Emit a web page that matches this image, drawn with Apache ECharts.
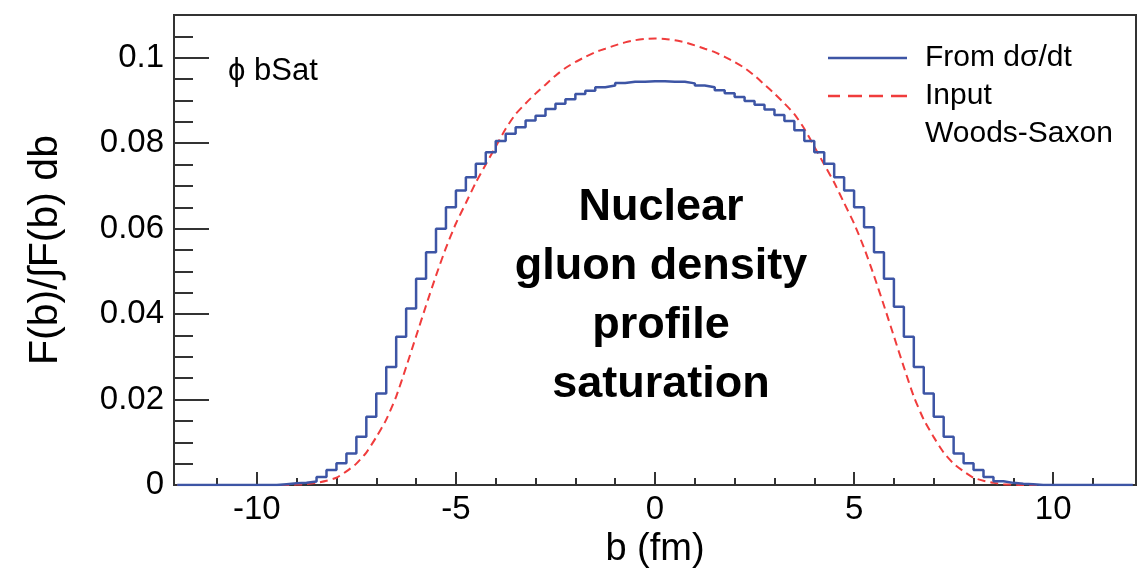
<!DOCTYPE html>
<html><head><meta charset="utf-8">
<script src="https://cdn.jsdelivr.net/npm/echarts@6/dist/echarts.min.js"></script>
<style>html,body{margin:0;padding:0;background:#fff}#c{width:1143px;height:571px}</style>
</head><body><div id="c"></div>
<script>
// ---- data ----
const histStart = -12;
const histBinWidth = 0.25;
const fromDsdt = [
  0,0,0,0,0,0,0,0,0,0,
  0.0002,0.0004,0.0005,0.0008,0.0019,0.0035,0.0051,0.0074,0.0113,0.0160,
  0.0214,0.0276,0.0347,0.0413,0.0483,0.0545,0.0600,0.0650,0.0689,0.0720,
  0.0752,0.0779,0.0805,0.0822,0.0837,0.0853,0.0864,0.0880,0.0892,0.0903,
  0.0915,0.0923,0.0931,0.0935,0.0941,0.0944,0.0944,0.0945,0.0945,0.0944,
  0.0944,0.0940,0.0935,0.0931,0.0924,0.0917,0.0908,0.0899,0.0890,0.0879,
  0.0866,0.0852,0.0830,0.0805,0.0779,0.0752,0.0720,0.0689,0.0650,0.0603,
  0.0545,0.0483,0.0417,0.0347,0.0276,0.0214,0.0160,0.0113,0.0074,0.0051,
  0.0035,0.0019,0.0009,0.0005,0.0003,0.0002,
  0,0,0,0,0,0,0,0,0,0
];
const wsStart = -12;
const wsStep = 0.25;
const inputWoodsSaxon = [
  0,0,0,0,0,0,0,0,0,0,0,0,
  0.0001,0.0002,0.0005,0.0010,0.0017,0.0032,0.0050,0.0076,0.0112,0.0153,
  0.0207,0.0276,0.0348,0.0420,0.0490,0.0555,0.0612,0.0660,0.0708,0.0750,
  0.0792,0.0834,0.0868,0.0893,0.0916,0.0937,0.0958,0.0976,0.0990,0.1002,
  0.1013,0.1021,0.1029,0.1036,0.1041,0.1044,
  0.1045,
  0.1044,0.1041,0.1036,0.1029,0.1021,0.1013,
  0.1002,0.0990,0.0976,0.0958,0.0937,0.0916,0.0893,0.0868,0.0834,0.0792,
  0.0750,0.0708,0.0660,0.0612,0.0555,0.0490,0.0420,0.0348,0.0276,0.0207,
  0.0153,0.0112,0.0076,0.0050,0.0032,0.0017,0.0010,0.0005,0.0002,0.0001,
  0,0,0,0,0,0,0,0,0,0,0,0
];
const xRange = [-12.08, 12.08];
const yRange = [0, 0.11];
const xTickLabels = [-10, -5, 0, 5, 10];
const xMinorTicks = [-11,-9,-8,-7,-6,-4,-3,-2,-1,1,2,3,4,6,7,8,9,11];
const yTickLabels = [0, 0.02, 0.04, 0.06, 0.08, 0.1];
const yMinorTicks = [0.005,0.01,0.015,0.025,0.03,0.035,0.045,0.05,0.055,0.065,0.07,0.075,0.085,0.09,0.095,0.105];
const seriesNames = ['From dσ/dt', 'Input', 'Woods-Saxon'];
const xTitle = 'b (fm)';
const yTitle = 'F(b)/∫F(b) db';
const modelLabel = 'ϕ bSat';
const annotationLines = ['Nuclear', 'gluon density', 'profile', 'saturation'];

// ---- build ----
const FONT = "'Liberation Sans', Arial, Helvetica, sans-serif";
const AX = '#333';
const BLUE = '#3d55a5';
const RED = '#f03c3c';

const histData = fromDsdt.map((v, i) => [histStart + i * histBinWidth, v]);
histData.push([histStart + fromDsdt.length * histBinWidth, fromDsdt[fromDsdt.length - 1]]);
const wsData = inputWoodsSaxon.map((v, i) => [wsStart + i * wsStep, v]);

const chart = echarts.init(document.getElementById('c'), null, {renderer: 'canvas'});
chart.setOption({
  animation: false,
  backgroundColor: '#fff',
  textStyle: {fontFamily: FONT},
  grid: {left: 174, right: 7, top: 15, bottom: 86, show: true, borderColor: AX, borderWidth: 2,
         backgroundColor: 'transparent', containLabel: false, outerBoundsMode: 'none'},
  xAxis: [
    {type: 'value', min: xRange[0], max: xRange[1], position: 'bottom',
     axisLine: {show: true, onZero: false, lineStyle: {color: AX, width: 2}},
     axisTick: {show: true, inside: true, length: 13, customValues: xTickLabels, lineStyle: {color: AX, width: 2}},
     axisLabel: {show: true, customValues: xTickLabels, margin: 8, color: '#000', fontSize: 33, fontFamily: FONT},
     splitLine: {show: false}, minorTick: {show: false},
     name: xTitle, nameLocation: 'middle', nameGap: 43,
     nameTextStyle: {fontSize: 38, color: '#000', fontFamily: FONT}},
    {type: 'value', min: xRange[0], max: xRange[1], position: 'bottom', gridIndex: 0,
     axisLine: {show: false, onZero: false},
     axisTick: {show: true, inside: true, length: 7, customValues: xMinorTicks, lineStyle: {color: AX, width: 2}},
     axisLabel: {show: false}, splitLine: {show: false}}
  ],
  yAxis: [
    {type: 'value', min: yRange[0], max: yRange[1], position: 'left',
     axisLine: {show: true, onZero: false, lineStyle: {color: AX, width: 2}},
     axisTick: {show: true, inside: true, length: 35, customValues: yTickLabels, lineStyle: {color: AX, width: 2}},
     axisLabel: {show: true, customValues: yTickLabels, margin: 10, color: '#000', fontSize: 33, fontFamily: FONT},
     splitLine: {show: false}, minorTick: {show: false},
     name: yTitle, nameLocation: 'middle', nameGap: 108,
     nameTextStyle: {fontSize: 41, color: '#000', fontFamily: FONT}},
    {type: 'value', min: yRange[0], max: yRange[1], position: 'left', gridIndex: 0,
     axisLine: {show: false, onZero: false},
     axisTick: {show: true, inside: true, length: 19, customValues: yMinorTicks, lineStyle: {color: AX, width: 2}},
     axisLabel: {show: false}, splitLine: {show: false}}
  ],
  legend: {
    show: true, orient: 'vertical', left: 823, top: 35,
    itemWidth: 79, itemHeight: 2.5, itemGap: 2, selectedMode: false,
    textStyle: {fontSize: 30, color: '#000', fontFamily: FONT, lineHeight: 36, padding: [0, 0, 0, 13]},
    data: [
      {name: seriesNames[0], icon: 'path://M0,0H79V2.5H0Z'},
      {name: seriesNames[1], icon: 'path://M0,0H12V2.5H0Z M20,0H34V2.5H20Z M41,0H55V2.5H41Z M63,0H79V2.5H63Z'},
      {name: seriesNames[2], icon: 'none'}
    ]
  },
  series: [
    {name: seriesNames[1], type: 'line', xAxisIndex: 0, yAxisIndex: 0, data: wsData,
     symbol: 'none', smooth: 0.2, z: 3,
     itemStyle: {color: RED},
     lineStyle: {color: RED, width: 2, type: [8, 5]}},
    {name: seriesNames[0], type: 'line', xAxisIndex: 0, yAxisIndex: 0, data: histData,
     step: 'end', symbol: 'none', z: 4,
     itemStyle: {color: BLUE},
     lineStyle: {color: BLUE, width: 2.5}},
    {name: seriesNames[2], type: 'line', xAxisIndex: 0, yAxisIndex: 0, data: [],
     symbol: 'none', itemStyle: {color: '#000'}, lineStyle: {width: 0}}
  ],
  graphic: [
    {type: 'text', x: 228, y: 71, z: 10,
     style: {text: modelLabel, font: "31px " + FONT, fill: '#000', align: 'left', verticalAlign: 'middle'}},
    {type: 'text', x: 661, y: 178, z: 10,
     style: {text: annotationLines.join('\n'), font: "bold 45px " + FONT, fill: '#000',
             align: 'center', verticalAlign: 'top', lineHeight: 59}}
  ]
});
</script>
</body></html>
